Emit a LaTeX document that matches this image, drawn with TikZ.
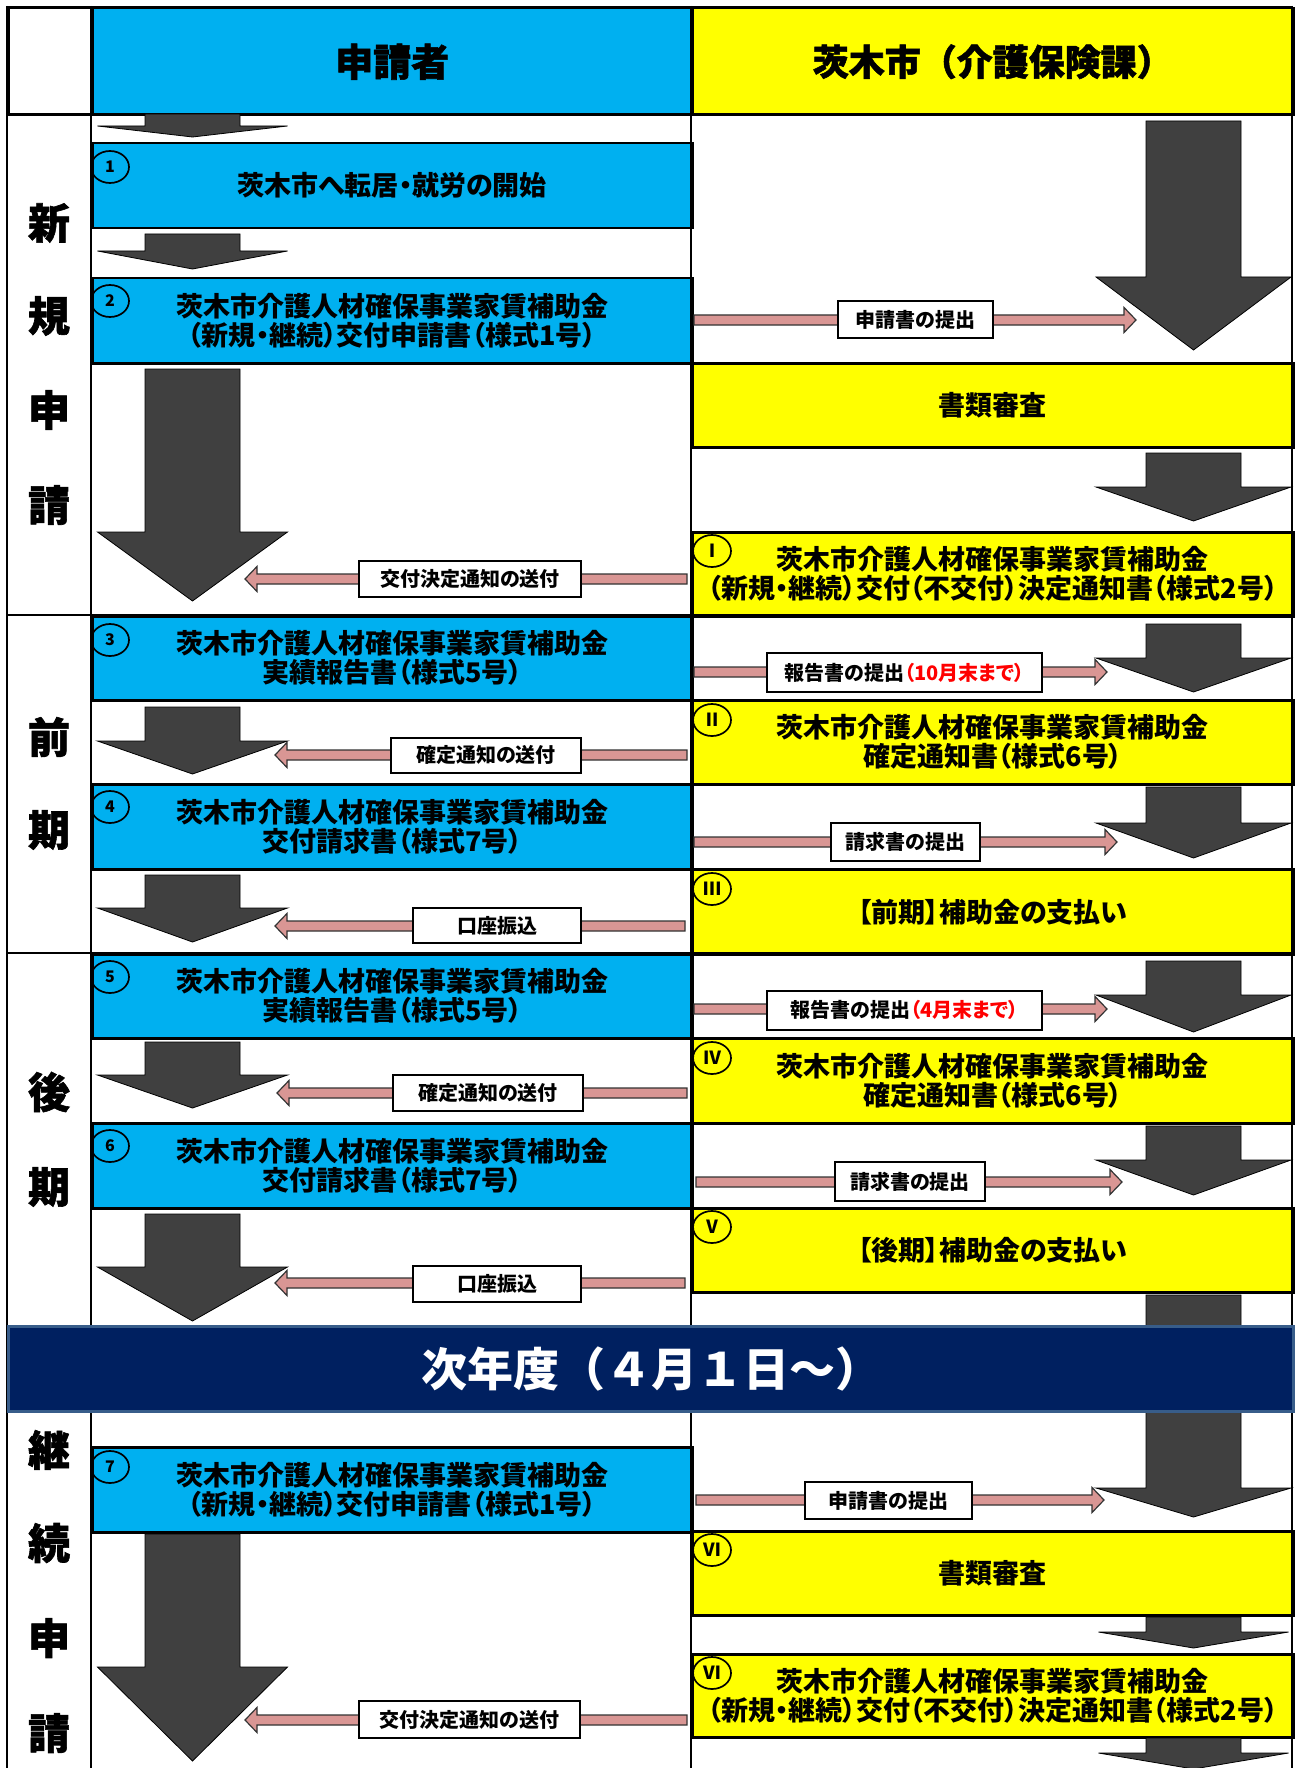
\documentclass[tikz,border=0pt]{standalone}
\usepackage{fontspec}
\newfontfamily\jp{Noto Sans CJK JP}[RawFeature=+palt]
\newfontfamily\jpf{Noto Sans CJK JP}
\newfontfamily\jph{Noto Sans CJK JP}[BoldFeatures={FakeBold=1.4}]
\usetikzlibrary{shapes.geometric}
\definecolor{cblue}{HTML}{00B0F0}
\definecolor{cyel}{HTML}{FFFF00}
\definecolor{cdark}{HTML}{404040}
\definecolor{cpink}{HTML}{D99694}
\definecolor{cnavy}{HTML}{002060}
\definecolor{cnavyb}{HTML}{385D8A}
\definecolor{cred}{HTML}{FF0000}
\newcommand\darrow[6]{%
  \draw[darkarrow] (#1-#3,#2) -- (#1+#3,#2) -- (#1+#3,#4) -- (#1+#5,#4) -- (#1,#6) -- (#1-#5,#4) -- (#1-#3,#4) -- cycle;}
\newcommand\parrow[4]{%
  \draw[pinkarrow] (#1,#4-5) -- (#2,#4-5) -- (#2,#4-12.5) -- (#3,#4) -- (#2,#4+12.5) -- (#2,#4+5) -- (#1,#4+5) -- cycle;}
\begin{document}
\begin{tikzpicture}[x=1pt,y=-1pt,
  cellbox/.style={draw=black, line width=2.5pt, inner sep=0pt, anchor=north west, align=center,
    font=\jp\bfseries\fontsize{27}{29}\selectfont},
  bluebox/.style={cellbox, fill=cblue, minimum width=600pt, minimum height=#1},
  yelbox/.style={cellbox, fill=cyel, minimum width=601pt, minimum height=#1},
  gridline/.style={line width=2.5pt, black},
  darkarrow/.style={fill=cdark, draw=black, line width=0.8pt, line join=miter},
  pinkarrow/.style={fill=cpink, draw=black!80, line width=1.2pt},
  lbl/.style={draw=black, fill=white, line width=2pt, inner sep=0pt, minimum height=37pt,
    font=\jp\bfseries\fontsize{20}{22}\selectfont},
  circ/.style={ellipse, draw=black, line width=1.7pt, minimum width=38pt, minimum height=32pt, inner sep=0pt,
    font=\jpf\bfseries\fontsize{16}{16}\selectfont},
  rcirc/.style={circ, font=\jpf\bfseries\fontsize{18}{18}\selectfont},
  sect/.style={font=\jph\bfseries\fontsize{42}{42}\selectfont},
]
\useasboundingbox (0,0) rectangle (1294,1768);
\fill[white] (0,0) rectangle (1294,1768);

% header
\node[cellbox, minimum width=84pt, minimum height=107pt, fill=white] (h1) at (7,7) {};
\node[bluebox=107pt, font=\jph\bfseries\fontsize{38}{40}\selectfont] (h2) at (91,7) {申請者};
\node[yelbox=107pt, font=\jph\bfseries\fontsize{36}{40}\selectfont] (h3) at (691,7) {茨木市（介護保険課）};

% applicant boxes
\node[bluebox=85pt] (b1) at (91,142) {茨木市へ転居・就労の開始};
\node[bluebox=85pt] (b2) at (91,277) {茨木市介護人材確保事業家賃補助金\\（新規・継続）交付申請書（様式1号）};
\node[bluebox=84pt] (b3) at (91,615) {茨木市介護人材確保事業家賃補助金\\実績報告書（様式5号）};
\node[bluebox=85pt] (b4) at (91,783) {茨木市介護人材確保事業家賃補助金\\交付請求書（様式7号）};
\node[bluebox=84pt] (b5) at (91,953) {茨木市介護人材確保事業家賃補助金\\実績報告書（様式5号）};
\node[bluebox=85pt] (b6) at (91,1122) {茨木市介護人材確保事業家賃補助金\\交付請求書（様式7号）};
\node[bluebox=85pt] (b7) at (91,1446) {茨木市介護人材確保事業家賃補助金\\（新規・継続）交付申請書（様式1号）};

% city boxes
\node[yelbox=84pt] (y0) at (691,362) {書類審査};
\node[yelbox=84pt] (y1) at (691,531) {茨木市介護人材確保事業家賃補助金\\（新規・継続）交付（不交付）決定通知書（様式2号）};
\node[yelbox=84pt] (y2) at (691,699) {茨木市介護人材確保事業家賃補助金\\確定通知書（様式6号）};
\node[yelbox=85pt] (y3) at (691,868) {【前期】補助金の支払い};
\node[yelbox=85pt] (y4) at (691,1037) {茨木市介護人材確保事業家賃補助金\\確定通知書（様式6号）};
\node[yelbox=84pt] (y5) at (691,1207) {【後期】補助金の支払い};
\node[yelbox=84pt] (y6) at (691,1530) {書類審査};
\node[yelbox=83pt] (y7) at (691,1653) {茨木市介護人材確保事業家賃補助金\\（新規・継続）交付（不交付）決定通知書（様式2号）};

% grid lines
\draw[gridline] (7,7) -- (1292,7);
\draw[gridline] (7,114) -- (1292,114);
\draw[gridline] (7,615) -- (1292,615);
\draw[gridline] (7,953) -- (1292,953);
\draw[gridline] (7,6) -- (7,1770);
\draw[gridline] (91,6) -- (91,1770);
\draw[gridline] (691,6) -- (691,1770);
\draw[gridline] (1292,6) -- (1292,1770);

% section labels
\node[sect] (s1) at (49,223) {新};
\node[sect] (s2) at (49,316) {規};
\node[sect] (s3) at (49,410) {申};
\node[sect] (s4) at (49,505) {請};
\node[sect] (s5) at (49,737) {前};
\node[sect] (s6) at (49,830) {期};
\node[sect] (s7) at (49,1092) {後};
\node[sect] (s8) at (49,1187) {期};
\node[sect] (s9) at (49,1450) {継};
\node[sect] (s10) at (49,1543) {続};
\node[sect] (s11) at (49,1638) {申};
\node[sect] (s12) at (49,1733) {請};

% dark arrows, applicant column
\darrow{192.5}{114}{47.5}{126}{95}{137}
\darrow{192.5}{234}{47.5}{251}{95}{269}
\darrow{192.5}{369}{47.5}{532}{95}{601}
\darrow{192.5}{707}{47.5}{741}{95}{774}
\darrow{192.5}{875}{47.5}{908}{95}{942}
\darrow{192.5}{1042}{47.5}{1075}{95}{1108}
\darrow{192.5}{1214}{47.5}{1267}{95}{1321}
\darrow{192.5}{1534}{47.5}{1667}{95}{1761}

% dark arrows, city column
\darrow{1193.5}{121}{47.5}{277}{97.5}{350}
\darrow{1193.5}{453}{47.5}{487}{97.5}{521}
\darrow{1193.5}{624}{47.5}{658}{97.5}{692}
\darrow{1193.5}{787}{47.5}{823}{97.5}{858}
\darrow{1193.5}{961}{47.5}{995}{97.5}{1032}
\darrow{1193.5}{1126}{47.5}{1160}{97.5}{1195}
\darrow{1193.5}{1295}{47.5}{1488}{97.5}{1517}
\darrow{1193.5}{1617}{47.5}{1632}{95}{1648}
\darrow{1193.5}{1738}{47.5}{1753}{95}{1769}

% pink arrows with labels
\parrow{694}{1124}{1136}{320}
\node[lbl, minimum width=155pt] (l1) at (915.5,319.5) {申請書の提出};
\parrow{687}{257}{245}{579}
\node[lbl, minimum width=222pt, minimum height=36pt] (l2) at (470,579) {交付決定通知の送付};
\parrow{694}{1095}{1107}{672}
\node[lbl, minimum width=275pt, minimum height=39pt] (l3) at (904.5,672.5) {報告書の提出\textcolor{cred}{（10月末まで）}};
\parrow{687}{287}{275}{755}
\node[lbl, minimum width=190pt, minimum height=35pt] (l4) at (486,755) {確定通知の送付};
\parrow{694}{1105}{1117}{842}
\node[lbl, minimum width=149pt, minimum height=38pt] (l5) at (905.5,842) {請求書の提出};
\parrow{685}{287}{275}{926}
\node[lbl, minimum width=168pt, minimum height=35pt] (l6) at (497,925.5) {口座振込};
\parrow{694}{1095}{1107}{1009}
\node[lbl, minimum width=275pt, minimum height=39pt] (l7) at (904.5,1010) {報告書の提出\textcolor{cred}{（4月末まで）}};
\parrow{687}{289}{277}{1093}
\node[lbl, minimum width=190pt, minimum height=36pt] (l8) at (488,1093) {確定通知の送付};
\parrow{696}{1110}{1122}{1182}
\node[lbl, minimum width=150pt, minimum height=39pt] (l9) at (910,1181.5) {請求書の提出};
\parrow{685}{287}{275}{1283}
\node[lbl, minimum width=168pt, minimum height=36pt] (l10) at (497,1284) {口座振込};
\parrow{696}{1092}{1104}{1500}
\node[lbl, minimum width=167pt] (l11) at (888.5,1500.5) {申請書の提出};
\parrow{687}{257}{245}{1720}
\node[lbl, minimum width=221pt] (l12) at (469.5,1719.5) {交付決定通知の送付};

% banner
\node[draw=cnavyb, fill=cnavy, line width=3pt, inner sep=0pt, minimum width=1285pt, minimum height=85pt,
  anchor=north west, text=white, font=\jpf\bfseries\fontsize{46}{46}\selectfont] (ban) at (7,1325) {次年度（４月１日～）};

% circled numbers
\node[circ] (c1) at (110,167) {1};
\node[circ] (c2) at (110,301) {2};
\node[circ] (c3) at (110,640) {3};
\node[circ] (c4) at (110,807) {4};
\node[circ] (c5) at (110,977) {5};
\node[circ] (c6) at (110,1146) {6};
\node[circ] (c7) at (110,1467) {7};
\node[rcirc] (r1) at (712,551) {Ⅰ};
\node[rcirc] (r2) at (712,720) {Ⅱ};
\node[rcirc] (r3) at (712,889) {Ⅲ};
\node[rcirc] (r4) at (712,1058) {Ⅳ};
\node[rcirc] (r5) at (712,1227) {Ⅴ};
\node[rcirc] (r6) at (712,1550) {Ⅵ};
\node[rcirc] (r7) at (712,1673) {Ⅵ};
\end{tikzpicture}
\end{document}
